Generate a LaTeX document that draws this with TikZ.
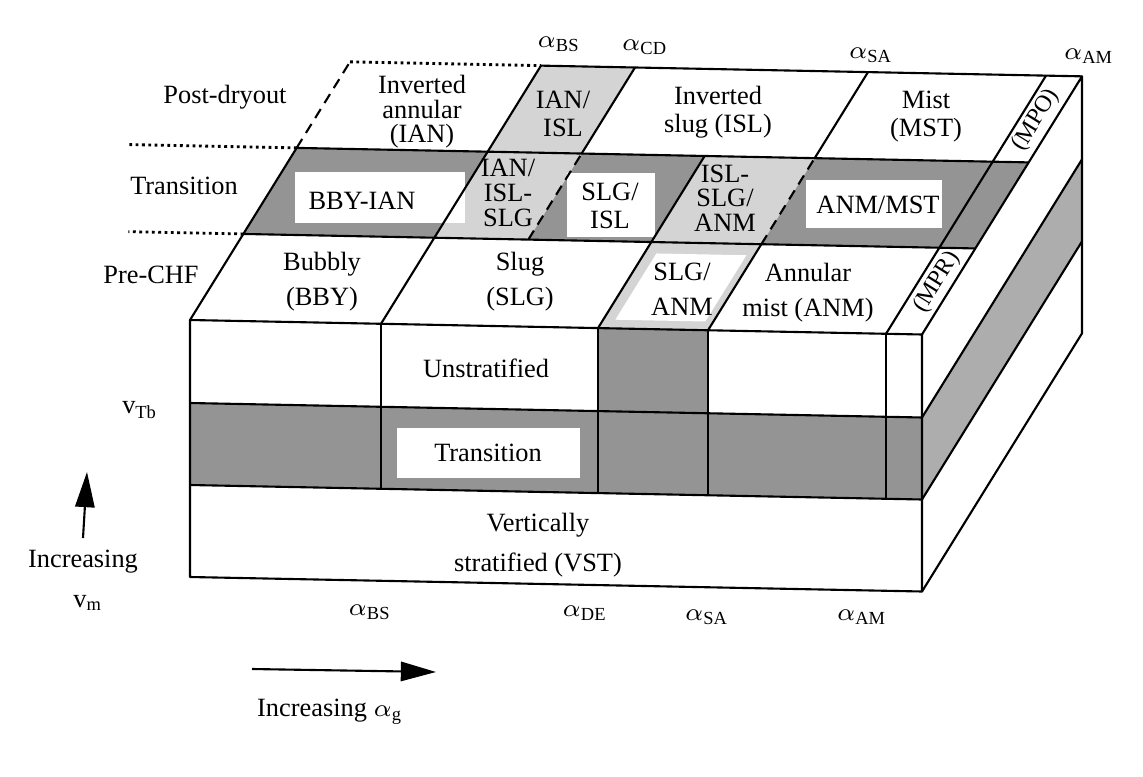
\documentclass[tikz,border=0pt]{standalone}
\usepackage{fontspec}
\setmainfont{Liberation Serif}
\usetikzlibrary{arrows.meta}

\tikzset{
  block/.style={shift={(190,320)}, x={(0.01cm,-0.000205cm)}, y={(0cm,-0.01cm)}, z={(0.533cm,0.86cm)}},
  dark/.style={fill=black!42},
  light/.style={fill=black!17},
  side/.style={fill=black!32},
  edge/.style={line width=0.6pt, line join=round},
  cell/.style={align=center, inner sep=1pt, font=\fontsize{7.5}{7}\selectfont},
  cellmid/.style={cell, font=\fontsize{7.5}{8}\selectfont},
  cellwide/.style={cell, font=\fontsize{7.5}{10}\selectfont},
  strip/.style={rotate=58, inner sep=0pt, font=\fontsize{6.8}{7}\selectfont},
}

\begin{document}
\begin{tikzpicture}[x=0.01cm, y=-0.01cm, >={Triangle[length=10pt,width=5.5pt]}, font=\fontsize{7.5}{9}\selectfont]
\useasboundingbox (0,0) rectangle (1143,776);

% Shaded cells
\begin{scope}[block]
  % front face
  \fill[dark] (408,0,0) -- (518,0,0) -- (518,83,0) -- (408,83,0) -- cycle;
  \fill[dark] (0,83,0) -- (732,83,0) -- (732,165,0) -- (0,165,0) -- cycle;
  % side face
  \fill[side] (732,83,0) -- (732,83,3) -- (732,165,3) -- (732,165,0) -- cycle;
  % top face, transition row
  \fill[dark] (0,0,1) -- (732,0,1) -- (732,0,2) -- (0,0,2) -- cycle;
  \fill[light] (191,0,1) -- (285,0,1) -- (285,0,2) -- (191,0,2) -- cycle;
  \fill[light] (408,0,1) -- (518,0,1) -- (518,0,2) -- (408,0,2) -- cycle;
  % top face, other transitional cells
  \fill[light] (191,0,2) -- (285,0,2) -- (285,0,3) -- (191,0,3) -- cycle;
  \fill[light] (408,0,0) -- (518,0,0) -- (518,0,1) -- (408,0,1) -- cycle;
  \fill[white] (420,0,0.1) -- (510,0,0.1) -- (510,0,0.87) -- (420,0,0.87) -- cycle;
\end{scope}

% White label boxes
\fill[white] (397,428) rectangle (580,478);
\fill[white] (295,172) rectangle (465,223);
\fill[white] (567,173) rectangle (655,237);
\fill[white] (806,180) rectangle (942,228);

% Edges
\begin{scope}[block, edge]
  % front face
  \draw (0,0,0) -- (732,0,0) -- (732,257,0) -- (0,257,0) -- cycle;
  \draw (0,83,0) -- (732,83,0) (0,165,0) -- (732,165,0);
  \foreach \a in {191,408,518,696} \draw (\a,0,0) -- (\a,165,0);
  % side face
  \draw (732,0,0) -- (732,0,3) -- (732,257,3) -- (732,257,0);
  \draw (732,83,0) -- (732,83,3) (732,165,0) -- (732,165,3);
  % top face
  \draw (0,0,0) -- (0,0,2);
  \draw[densely dashed] (0,0,2) -- (0,0,3);
  \draw[densely dotted, line width=0.8pt] (0,0,3) -- (191,0,3);
  \draw (191,0,3) -- (732,0,3);
  \draw (0,0,1) -- (732,0,1) (0,0,2) -- (732,0,2);
  \foreach \a in {191,696} \draw (\a,0,0) -- (\a,0,3);
  \draw (408,0,0) -- (408,0,2);
  \draw (518,0,0) -- (518,0,1) (518,0,2) -- (518,0,3);
  \draw[densely dashed] (518,0,1) -- (518,0,2);
  \draw[densely dashed] (285,0,1) -- (285,0,2);
  \draw (285,0,2) -- (285,0,3);
  % row separators
  \draw[densely dotted, line width=0.8pt] (0,0,1) -- ++(-115,0,0);
  \draw[densely dotted, line width=0.8pt] (0,0,2) -- ++(-170,0,0);
\end{scope}

% Row names
\node (post) at (225,97) {Post-dryout};
\node (trans) at (184,186) {Transition};
\node (pre) at (151,275) {Pre-CHF};
\node (vtb) at (140,410) {v\textsubscript{Tb}};

% Post-dryout
\node[cell] (ian) at (422,112) {Inverted\\annular\\(IAN)};
\node[cellmid] (ianisl) at (563,114) {IAN/\\ISL};
\node[cellmid] (isl) at (718,112) {Inverted\\slug (ISL)};
\node[cellmid] (mst) at (926,117) {Mist\\(MST)};
\node[strip] (mpo) at (1036,120) {(MPO)};

% Transition
\node (bbyian) at (362,201) {BBY-IAN};
\node[cell] (ianislslg) at (508,193) {IAN/\\ISL-\\SLG};
\node[cellmid] (slgisl) at (610,206) {SLG/\\ISL};
\node[cell] (islslganm) at (725,198) {ISL-\\SLG/\\ANM};
\node (anmmst) at (878,205) {ANM/MST};

% Pre-CHF
\node[cellwide] (bby) at (322,282) {Bubbly\\(BBY)};
\node[cellwide] (slg) at (520,282) {Slug\\(SLG)};
\node[cellwide] (slganm) at (682,289) {SLG/\\ANM};
\node[cellwide] (anm) at (808,293) {Annular\\mist (ANM)};
\node[strip] (mpr) at (937,282) {(MPR)};

% Front face
\node (unstrat) at (486,368) {Unstratified};
\node (trfront) at (488,453) {Transition};
\node[cell, font=\fontsize{7.5}{11.5}\selectfont] (vst) at (538,545) {Vertically\\stratified (VST)};

% Void fraction limits
\node (bstop) at (559,44) {$\alpha$\textsubscript{BS}};
\node (cdtop) at (645,47) {$\alpha$\textsubscript{CD}};
\node (satop) at (871,55) {$\alpha$\textsubscript{SA}};
\node (amtop) at (1089,56) {$\alpha$\textsubscript{AM}};
\node (bsbot) at (370,612) {$\alpha$\textsubscript{BS}};
\node (debot) at (585,613) {$\alpha$\textsubscript{DE}};
\node (sabot) at (707,617) {$\alpha$\textsubscript{SA}};
\node (ambot) at (862,617) {$\alpha$\textsubscript{AM}};

% Axes
\node (incv) at (83,562) {Increasing};
\node (vm) at (88,603) {v\textsubscript{m}};
\coordinate (vmtip) at (87,472);
\draw[->, edge] (incv.north) -- (vmtip);
\coordinate (agstart) at (252,669);
\coordinate (agtip) at (436,672);
\draw[->, edge] (agstart) -- (agtip);
\node (incag) at (330,712) {Increasing $\alpha$\textsubscript{g}};
\end{tikzpicture}
\end{document}
